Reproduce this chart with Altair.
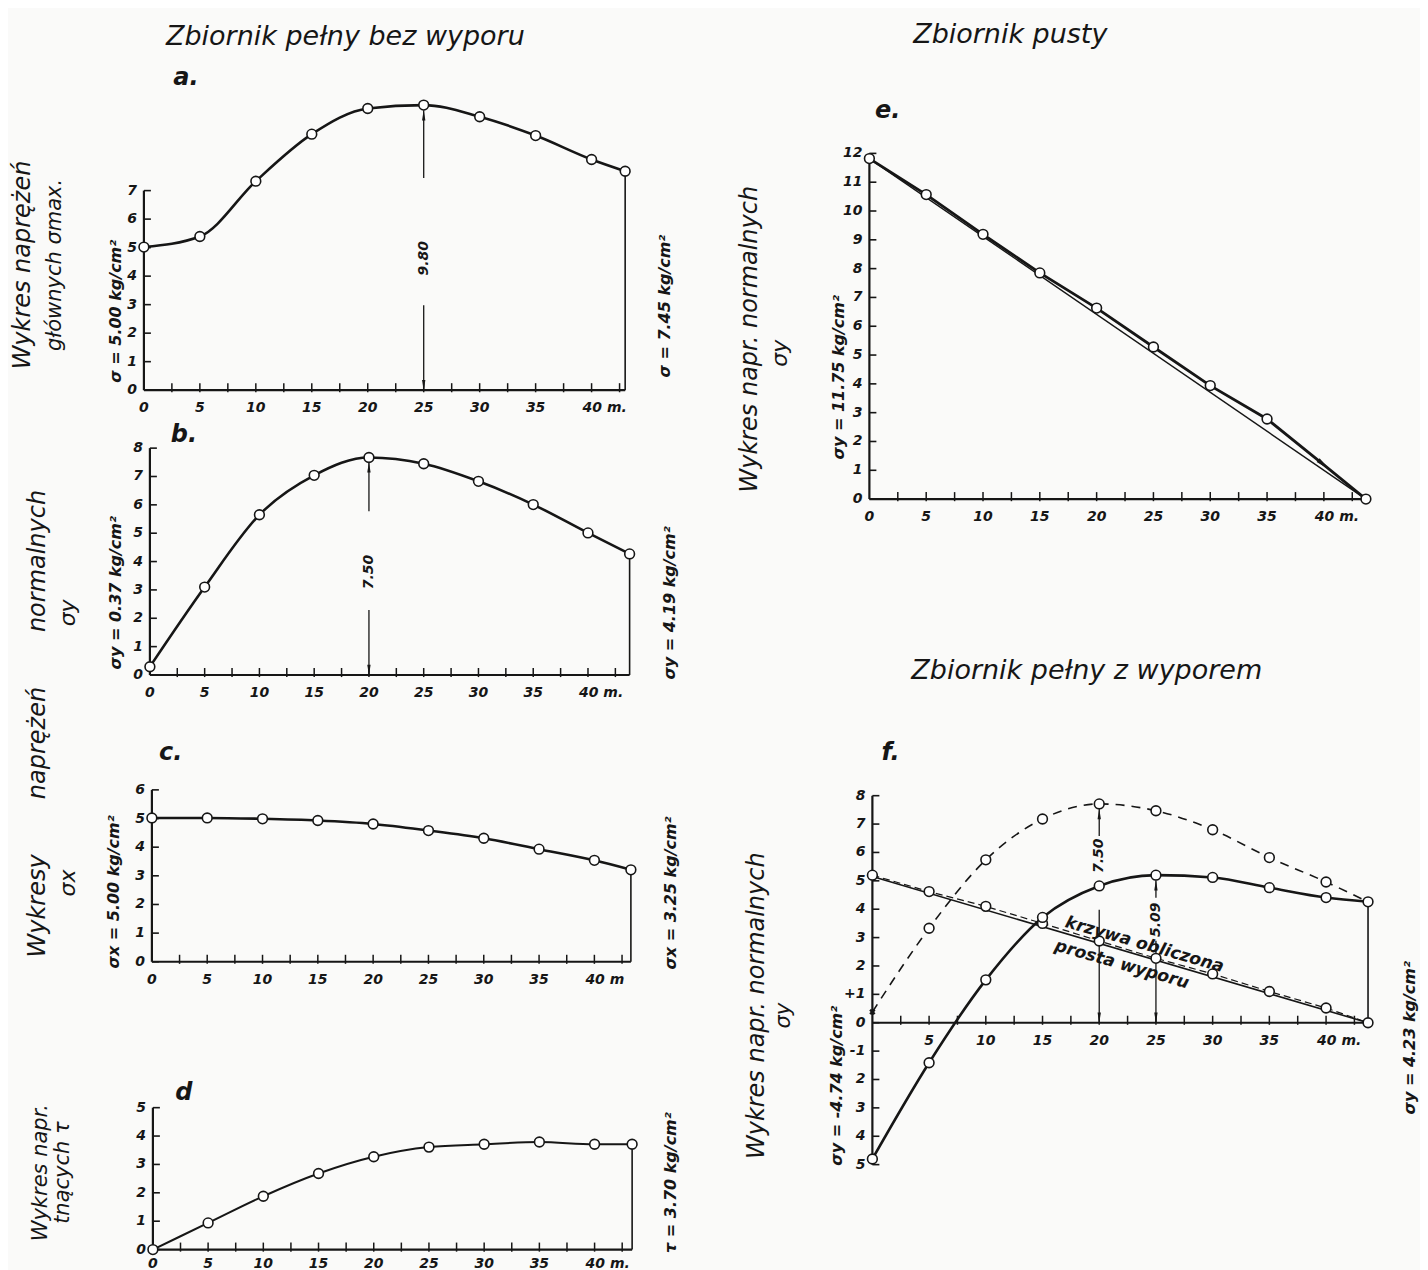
import altair as alt
import pandas as pd

FONT = "DejaVu Sans"
INK = "#161616"

X_STD = [0, 5, 10, 15, 20, 25, 30, 35, 40]
X_TICKS = [2.5, 5, 7.5, 10, 12.5, 15, 17.5, 20, 22.5, 25, 27.5, 30, 32.5, 35, 37.5, 40, 42.5]

# ---- a : principal stresses, full reservoir without uplift
a_x = X_STD + [43.0]
a_y = [5.02, 5.39, 7.33, 8.98, 9.88, 10.0, 9.59, 8.93, 8.09, 7.68]
a_yt = [0, 1, 2, 3, 4, 5, 6, 7]
# ---- b : normal stresses sigma_y
b_x = X_STD + [43.8]
b_y = [0.29, 3.10, 5.65, 7.04, 7.67, 7.45, 6.83, 6.01, 5.01, 4.27]
b_yt = [0, 1, 2, 3, 4, 5, 6, 7, 8]
# ---- c : normal stresses sigma_x
c_x = X_STD + [43.3]
c_y = [5.02, 5.02, 4.99, 4.93, 4.81, 4.58, 4.31, 3.93, 3.54, 3.21]
c_yt = [0, 1, 2, 3, 4, 5, 6]
# ---- d : shear stresses tau
d_x = X_STD + [43.4]
d_y = [0.0, 0.94, 1.88, 2.68, 3.27, 3.61, 3.71, 3.79, 3.71, 3.71]
d_yt = [0, 1, 2, 3, 4, 5]
# ---- e : empty reservoir sigma_y
e_x = X_STD + [43.7]
e_y = [11.82, 10.57, 9.19, 7.85, 6.63, 5.28, 3.94, 2.78, 1.19, 0.0]
e_lin_x = [0, 43.7]
e_lin_y = [11.82, 0.0]
e_yt = [0, 1, 2, 3, 4, 5, 6, 7, 8, 9, 10, 11, 12]
# ---- f : full reservoir with uplift sigma_y
f_x = X_STD + [43.7]
f_noupl = [0.38, 3.33, 5.74, 7.18, 7.71, 7.47, 6.80, 5.82, 4.96, 4.26]
f_upl = [-4.80, -1.41, 1.51, 3.71, 4.82, 5.20, 5.12, 4.76, 4.41, 4.26]
f_calc = [5.20, 4.62, 4.10, 3.50, 2.88, 2.27, 1.72, 1.10, 0.52, 0.0]
f_line_x = [0, 43.7]
f_line_y = [5.15, 0.0]
f_yt = [8, 7, 6, 5, 4, 3, 2, 1, 0, -1, -2, -3, -4, -5]
f_ytl = ["8", "7", "6", "5", "4", "3", "2", "+1", "0", "-1", "2", "3", "4", "5"]

XL_STD = ["0", "5", "10", "15", "20", "25", "30", "35"]

UP = "M0,-1L0.32,1L-0.32,1Z"
DOWN = "M0,1L0.32,-1L-0.32,-1Z"

# ---- layout: one canvas, every panel has its own x / y scale
CW, CH = 1225, 1151          # canvas (plot area) size


def xdom_for(origin, ppm):
    return [-origin / ppm, (CW - origin) / ppm]


def ydom_for(base, ppu):
    return [(base - CH) / ppu, base / ppu]


def make_panel(xdom, ydom, yax, yt_vals, yt_labs, xl_vals, xl_labs, last_lab,
               xend, ylast, curves, pts, rules, ups, downs, texts, extra=(), xl_dy=18):
    xs = alt.Scale(domain=xdom, nice=False, zero=False)
    ys = alt.Scale(domain=ydom, nice=False, zero=False)

    def X(f="x"):
        return alt.X(f"{f}:Q", scale=xs, axis=None)

    def Y(f="y"):
        return alt.Y(f"{f}:Q", scale=ys, axis=None)

    kx = 7.0 * (xdom[1] - xdom[0]) / CW
    ky = 7.0 * (ydom[1] - ydom[0]) / CH
    L = []
    L.append(alt.Chart(pd.DataFrame({"x": [0], "y": [yax[0]], "y2": [yax[1]]}))
             .mark_rule(color=INK, strokeWidth=2.2)
             .encode(x=X(), y=Y(), y2=alt.Y2("y2")))
    L.append(alt.Chart(pd.DataFrame({"x": [0] * len(yt_vals), "x2": [kx] * len(yt_vals), "y": yt_vals}))
             .mark_rule(color=INK, strokeWidth=1.6)
             .encode(x=X(), x2=alt.X2("x2"), y=Y()))
    L.append(alt.Chart(pd.DataFrame({"x": [0], "x2": [xend], "y": [0]}))
             .mark_rule(color=INK, strokeWidth=2.2)
             .encode(x=X(), x2=alt.X2("x2"), y=Y()))
    tk = [t for t in X_TICKS if t < xend - 0.4]
    L.append(alt.Chart(pd.DataFrame({"x": tk, "y": [-0.3 * ky] * len(tk), "y2": [ky] * len(tk)}))
             .mark_rule(color=INK, strokeWidth=1.5)
             .encode(x=X(), y=Y(), y2=alt.Y2("y2")))
    L.append(alt.Chart(pd.DataFrame({"x": [xend], "y": [0], "y2": [ylast]}))
             .mark_rule(color=INK, strokeWidth=1.6)
             .encode(x=X(), y=Y(), y2=alt.Y2("y2")))
    for cx, cy, kw in curves:
        L.append(alt.Chart(pd.DataFrame({"x": cx, "y": cy}))
                 .mark_line(color=INK, **kw)
                 .encode(x=X(), y=Y()))
    if rules:
        rd = pd.DataFrame(rules, columns=["x", "y", "y2"])
        L.append(alt.Chart(rd).mark_rule(color=INK, strokeWidth=1.3)
                 .encode(x=X(), y=Y(), y2=alt.Y2("y2")))
    if ups:
        ud = pd.DataFrame(ups, columns=["x", "y"])
        L.append(alt.Chart(ud).mark_point(shape=UP, filled=True, color=INK, size=110, yOffset=5, opacity=1)
                 .encode(x=X(), y=Y()))
    if downs:
        dd = pd.DataFrame(downs, columns=["x", "y"])
        L.append(alt.Chart(dd).mark_point(shape=DOWN, filled=True, color=INK, size=110, yOffset=-5, opacity=1)
                 .encode(x=X(), y=Y()))
    for e in extra:
        L.append(e(X, Y))
    for px_, py_ in pts:
        L.append(alt.Chart(pd.DataFrame({"x": px_, "y": py_}))
                 .mark_point(shape="circle", filled=True, fill="white", stroke=INK,
                             strokeWidth=1.6, size=95, opacity=1)
                 .encode(x=X(), y=Y()))
    L.append(alt.Chart(pd.DataFrame({"x": [0] * len(yt_vals), "y": yt_vals, "t": yt_labs}))
             .mark_text(font=FONT, fontStyle="italic", fontWeight="bold", fontSize=14, color=INK,
                        align="right", baseline="middle", dx=-7)
             .encode(x=X(), y=Y(), text="t:N"))
    L.append(alt.Chart(pd.DataFrame({"x": xl_vals, "y": [0] * len(xl_vals), "t": xl_labs}))
             .mark_text(font=FONT, fontStyle="italic", fontWeight="bold", fontSize=14, color=INK,
                        align="center", baseline="middle", dy=xl_dy)
             .encode(x=X(), y=Y(), text="t:N"))
    L.append(alt.Chart(pd.DataFrame({"x": [40], "y": [0], "t": [last_lab]}))
             .mark_text(font=FONT, fontStyle="italic", fontWeight="bold", fontSize=14, color=INK,
                        align="left", baseline="middle", dy=xl_dy, dx=-9)
             .encode(x=X(), y=Y(), text="t:N"))
    td = pd.DataFrame(texts, columns=["t", "x", "y", "ang", "fs", "w"])
    for w in ["normal", "bold"]:
        sub = td[td["w"] == w]
        if len(sub):
            L.append(alt.Chart(sub).mark_text(font=FONT, fontStyle="italic", fontWeight=w, color=INK,
                                              align="center", baseline="middle")
                     .encode(x=X(), y=Y(), text="t:N",
                             angle=alt.Angle("ang:Q", scale=None),
                             size=alt.Size("fs:Q", scale=None)))
    return alt.layer(*L)


SOLID = dict(strokeWidth=2.6, interpolate="monotone")
N, B = "normal", "bold"

a = make_panel(
    xdom_for(0, 11.2), ydom_for(291, 28.53), [0, 7], a_yt, [str(v) for v in a_yt], X_STD[:-1], XL_STD, "40 m.",
    a_x[-1], a_y[-1],
    curves=[(a_x, a_y, SOLID)], pts=[(a_x, a_y)],
    rules=[(25, 7.44, 9.82), (25, 0, 2.98)], ups=[(25, 9.82)], downs=[(25, 0)],
    texts=[("Zbiornik pełny bez wyporu", 18.0, 12.4, 0, 27, N),
           ("a.", 3.75, 10.94, 0, 24, B),
           ("Wykres naprężeń", -10.8, 4.39, 270, 24, N),
           ("głównych σmax.", -7.95, 4.39, 270, 21, N),
           ("σ = 5.00 kg/cm²", -2.5, 2.77, 270, 16, B),
           ("σ = 7.45 kg/cm²", 46.6, 2.95, 270, 16, B),
           ("9.80", 25, 4.63, 270, 14, B)])

b = make_panel(
    xdom_for(6, 10.96), ydom_for(576, 28.375), [0, 8], b_yt, [str(v) for v in b_yt], X_STD[:-1], XL_STD, "40 m.",
    b_x[-1], b_y[-1],
    curves=[(b_x, b_y, SOLID)], pts=[(b_x, b_y)],
    rules=[(20, 5.77, 7.50), (20, 0, 2.29)], ups=[(20, 7.50)], downs=[(20, 0)],
    texts=[("b.", 3.1, 8.46, 0, 24, B),
           ("normalnych", -10.2, 4.02, 270, 24, N),
           ("naprężeń", -10.2, -2.4, 270, 24, N),
           ("σy", -7.5, 2.19, 270, 22, N),
           ("σy = 0.37 kg/cm²", -3.1, 2.9, 270, 16, B),
           ("σy = 4.19 kg/cm²", 47.5, 2.54, 270, 16, B),
           ("7.50", 20, 3.63, 270, 14, B)])

c = make_panel(
    xdom_for(8, 11.07), ydom_for(863, 28.67), [0, 6], c_yt, [str(v) for v in c_yt], X_STD[:-1], XL_STD, "40 m",
    c_x[-1], c_y[-1],
    curves=[(c_x, c_y, SOLID)], pts=[(c_x, c_y)],
    rules=[], ups=[], downs=[],
    texts=[("c.", 1.7, 7.29, 0, 24, B),
           ("Wykresy", -10.3, 1.95, 270, 24, N),
           ("σx", -7.6, 2.75, 270, 22, N),
           ("σx = 5.00 kg/cm²", -3.4, 2.44, 270, 16, B),
           ("σx = 3.25 kg/cm²", 46.9, 2.4, 270, 16, B)])

d = make_panel(
    xdom_for(9, 11.05), ydom_for(1151, 28.4), [0, 5], d_yt, [str(v) for v in d_yt], X_STD[:-1], XL_STD, "40 m.",
    d_x[-1], d_y[-1],
    curves=[(d_x, d_y, dict(strokeWidth=2.0, interpolate="monotone"))], pts=[(d_x, d_y)],
    rules=[], ups=[], downs=[],
    texts=[("d", 2.8, 5.53, 0, 24, B),
           ("Wykres napr.", -10.1, 2.71, 270, 21, N),
           ("tnących τ", -8.1, 2.71, 270, 21, N),
           ("τ = 3.70 kg/cm²", 46.9, 2.36, 270, 16, B)],
    xl_dy=14)


def e_blob(X, Y):
    return (alt.Chart(pd.DataFrame({"x": [40], "y": [1.19]}))
            .mark_point(shape=UP, filled=True, color=INK, size=220, angle=129, opacity=1)
            .encode(x=X(), y=Y()))


e = make_panel(
    xdom_for(726, 11.37), ydom_for(400, 28.83), [0, 12], e_yt, [str(v) for v in e_yt], X_STD[:-1], XL_STD, "40 m.",
    e_x[-1], 0,
    curves=[(e_lin_x, e_lin_y, dict(strokeWidth=1.4)),
            (e_x, e_y, dict(strokeWidth=2.8))],
    pts=[(e_x[:8] + [e_x[-1]], e_y[:8] + [e_y[-1]])],
    rules=[], ups=[], downs=[],
    texts=[("Zbiornik pusty", 12.4, 16.1, 0, 27, N),
           ("e.", 1.6, 13.46, 0, 24, B),
           ("Wykres napr. normalnych", -10.5, 5.55, 270, 24, N),
           ("σy", -7.9, 5.06, 270, 22, N),
           ("σy = 11.75 kg/cm²", -2.7, 4.23, 270, 16, B)],
    extra=[e_blob])


def f_cross(X, Y):
    return (alt.Chart(pd.DataFrame({"x": [f_x[0]], "y": [f_noupl[0]]}))
            .mark_point(shape="cross", filled=True, color=INK, size=40, angle=45, opacity=1)
            .encode(x=X(), y=Y()))


f = make_panel(
    xdom_for(729, 11.35), ydom_for(924, 28.4), [-5, 8], f_yt, f_ytl, X_STD[1:-1], XL_STD[1:], "40 m.",
    f_x[-1], f_upl[-1],
    curves=[(f_x, f_noupl, dict(strokeWidth=1.6, strokeDash=[9, 7], interpolate="monotone")),
            (f_line_x, f_line_y, dict(strokeWidth=1.6)),
            (f_x, f_calc, dict(strokeWidth=1.2, strokeDash=[7, 4])),
            (f_x, f_upl, SOLID)],
    pts=[(f_x[1:-1], f_noupl[1:-1]), (f_x, f_calc), (f_x, f_upl)],
    rules=[(20, 6.58, 7.53), (20, 0, 3.98), (25, 4.40, 5.02), (25, 0, 2.89)],
    ups=[(20, 7.53), (25, 5.02)], downs=[(20, 0), (25, 0)],
    texts=[("Zbiornik pełny z wyporem", 18.9, 12.39, 0, 27, N),
           ("f.", 1.6, 9.5, 0, 24, B),
           ("Wykres napr. normalnych", -10.2, 0.6, 270, 24, N),
           ("σy", -7.8, 0.25, 270, 21, N),
           ("σy = -4.74 kg/cm²", -3.1, -2.22, 270, 16, B),
           ("σy = 4.23 kg/cm²", 47.4, -0.53, 270, 16, B),
           ("krzywa obliczona", 24.0, 2.75, 16, 17, B),
           ("prosta wyporu", 22.0, 2.05, 16, 17, B),
           ("7.50", 20, 5.88, 270, 14, B),
           ("5.09", 25, 3.63, 270, 14, B)],
    extra=[f_cross])

chart = (alt.layer(a, b, c, d, e, f)
         .resolve_scale(x="independent", y="independent")
         .properties(width=CW, height=CH,
                     padding={"left": 3, "top": 12, "right": 2, "bottom": 0},
                     background="#fafaf9")
         .configure_view(stroke=None))

chart.save("out.html", embed_options={"renderer": "svg", "actions": False})
